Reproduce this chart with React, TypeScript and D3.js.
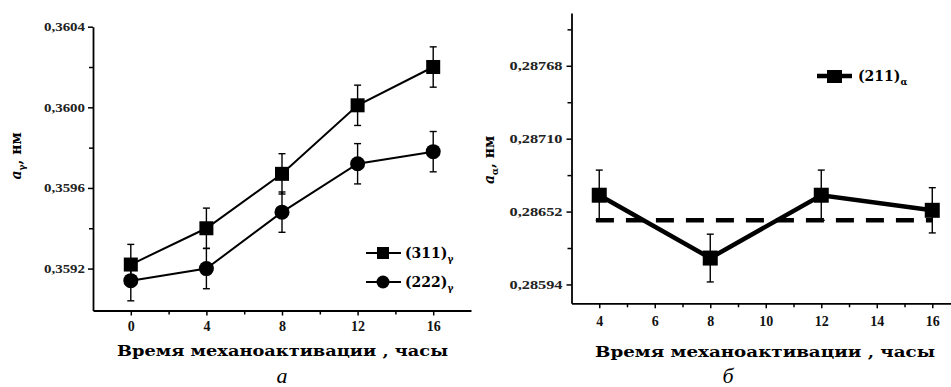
import { useEffect, useRef } from 'react'
import * as d3 from 'd3'

// panel а: lattice parameter of austenite vs activation time
const hoursA = [0, 4, 8, 12, 16]
const s311 = [0.35922, 0.3594, 0.35967, 0.36001, 0.3602]
const s311Err = [0.0001, 0.0001, 0.0001, 0.0001, 0.0001]
const s222 = [0.35914, 0.3592, 0.35948, 0.35972, 0.35978]
const s222Err = [0.0001, 0.0001, 0.0001, 0.0001, 0.0001]
const yTicksA = [0.3592, 0.3596, 0.36, 0.3604]
const yMinorA = [0.3594, 0.3598, 0.3602]
const xTicksA = [0, 4, 8, 12, 16]
const xMinorA = [2, 6, 10, 14]

// panel б: lattice parameter of ferrite
const hoursB = [4, 8, 12, 16]
const s211 = [0.28665, 0.28615, 0.28665, 0.28653]
const s211Err = [0.0002, 0.00019, 0.0002, 0.00018]
const refLevel = 0.28645
const yTicksB = [0.28594, 0.28652, 0.2871, 0.28768]
const yMinorB = [0.28623, 0.28681, 0.28739, 0.28797]
const xTicksB = [4, 6, 8, 10, 12, 14, 16]
const xMinorB = [5, 7, 9, 11, 13, 15]

const SERIF = '"DejaVu Serif", "Liberation Serif", serif'
const TIMES = '"Liberation Serif", serif'

export default function App() {
  const ref = useRef<SVGSVGElement>(null)

  useEffect(() => {
    const svg = d3.select(ref.current)
    svg.selectAll('*').remove()

    const axisStyle = (g: d3.Selection<SVGGElement, unknown, null, undefined>) => {
      g.select('.domain').attr('stroke', '#000').attr('stroke-width', 1.8)
      g.selectAll('.tick line').attr('stroke', '#000').attr('stroke-width', 1.5)
    }

    // ---------- panel а ----------
    const xA = d3.scaleLinear().domain([-2, 18]).range([93, 471])
    const yA = d3.scaleLinear().domain([0.358992, 0.3604]).range([310.5, 26.7])
    const pA = svg.append('g')

    const minorYA = pA.append('g').attr('transform', `translate(${xA(-2)},0)`)
      .call(d3.axisLeft(yA).tickValues(yMinorA).tickSize(4).tickFormat(() => ''))
    minorYA.select('.domain').remove()
    minorYA.selectAll('.tick line').attr('stroke', '#000').attr('stroke-width', 1.5)

    pA.append('g').attr('transform', `translate(${xA(-2)},0)`)
      .call(d3.axisLeft(yA).tickValues(yTicksA).tickSize(5).tickSizeOuter(0)
        .tickFormat(v => (+v).toFixed(4).replace('.', ',')))
      .call(axisStyle)
      .call(g => g.selectAll('.tick text')
        .attr('font-family', TIMES).attr('font-size', 12).attr('font-weight', 700)
        .attr('fill', '#222').attr('x', -8).attr('textLength', 41).attr('lengthAdjust', 'spacingAndGlyphs'))

    const minorXA = pA.append('g').attr('transform', `translate(0,${yA.range()[0]})`)
      .call(d3.axisBottom(xA).tickValues(xMinorA).tickSize(4).tickFormat(() => ''))
    minorXA.select('.domain').remove()
    minorXA.selectAll('.tick line').attr('stroke', '#000').attr('stroke-width', 1.5)

    pA.append('g').attr('transform', `translate(0,${yA.range()[0]})`)
      .call(d3.axisBottom(xA).tickValues(xTicksA).tickSize(5).tickSizeOuter(0))
      .call(axisStyle)
      .call(g => g.selectAll('.tick text')
        .attr('font-family', TIMES).attr('font-size', 14).attr('font-weight', 700)
        .attr('fill', '#111').attr('y', 11))

    const seriesA = [
      { vals: s311, err: s311Err, shape: 'square' },
      { vals: s222, err: s222Err, shape: 'circle' },
    ]
    seriesA.forEach(s => {
      const pts = hoursA.map((h, i) => ({ x: h, y: s.vals[i], e: s.err[i] }))
      pts.forEach(p => {
        pA.append('line').attr('x1', xA(p.x)).attr('x2', xA(p.x))
          .attr('y1', yA(p.y - p.e)).attr('y2', yA(p.y + p.e))
          .attr('stroke', '#000').attr('stroke-width', 1.4)
        ;[p.y - p.e, p.y + p.e].forEach(v => pA.append('line')
          .attr('x1', xA(p.x) - 3.5).attr('x2', xA(p.x) + 3.5)
          .attr('y1', yA(v)).attr('y2', yA(v))
          .attr('stroke', '#000').attr('stroke-width', 1.4))
      })
      pA.append('path').datum(pts)
        .attr('d', d3.line<typeof pts[0]>().x(p => xA(p.x)).y(p => yA(p.y)))
        .attr('fill', 'none').attr('stroke', '#000').attr('stroke-width', 2)
      pts.forEach(p => {
        if (s.shape === 'square') {
          pA.append('rect').attr('x', xA(p.x) - 7).attr('y', yA(p.y) - 7)
            .attr('width', 14).attr('height', 14).attr('fill', '#000')
        } else {
          pA.append('circle').attr('cx', xA(p.x)).attr('cy', yA(p.y)).attr('r', 7.5).attr('fill', '#000')
        }
      })
    })

    // legend а
    const legA = [
      { label: '(311)', y: 253, shape: 'square' },
      { label: '(222)', y: 282, shape: 'circle' },
    ]
    legA.forEach(l => {
      pA.append('line').attr('x1', 366).attr('x2', 401).attr('y1', l.y).attr('y2', l.y)
        .attr('stroke', '#000').attr('stroke-width', 2)
      if (l.shape === 'square') pA.append('rect').attr('x', 377).attr('y', l.y - 6).attr('width', 12).attr('height', 12)
      else pA.append('circle').attr('cx', 383).attr('cy', l.y).attr('r', 6.5)
      const t = pA.append('text').attr('x', 405).attr('y', l.y + 5)
        .attr('font-family', SERIF).attr('font-size', 14).attr('font-weight', 700)
      t.append('tspan').text(l.label)
      t.append('tspan').attr('dy', 4).attr('font-size', 9).text('γ')
    })

    // titles а
    const yTitleA = pA.append('text').attr('transform', 'translate(21,156) rotate(-90)')
      .attr('text-anchor', 'middle').attr('font-family', SERIF).attr('font-size', 14).attr('font-weight', 700)
    yTitleA.append('tspan').attr('font-style', 'italic').text('a')
    yTitleA.append('tspan').attr('dy', 4).attr('font-size', 9).text('γ')
    yTitleA.append('tspan').attr('dy', -4).text(', нм')

    pA.append('text').attr('x', 117).attr('y', 356)
      .attr('font-family', SERIF).attr('font-size', 15).attr('font-weight', 700)
      .attr('textLength', 331).attr('lengthAdjust', 'spacingAndGlyphs')
      .text('Время механоактивации , часы')
    pA.append('text').attr('x', 282).attr('y', 383).attr('text-anchor', 'middle')
      .attr('font-family', TIMES).attr('font-size', 22).attr('font-style', 'italic').text('а')

    // ---------- panel б ----------
    const xB = d3.scaleLinear().domain([3, 16.7]).range([571.5, 951.7])
    const yB = d3.scaleLinear().domain([0.28579, 0.2881]).range([303.3, 13])
    const pB = svg.append('g')

    const minorYB = pB.append('g').attr('transform', `translate(${xB(3)},0)`)
      .call(d3.axisLeft(yB).tickValues(yMinorB).tickSize(4).tickFormat(() => ''))
    minorYB.select('.domain').remove()
    minorYB.selectAll('.tick line').attr('stroke', '#000').attr('stroke-width', 1.5)

    pB.append('g').attr('transform', `translate(${xB(3)},0)`)
      .call(d3.axisLeft(yB).tickValues(yTicksB).tickSize(5).tickSizeOuter(0)
        .tickFormat(v => (+v).toFixed(5).replace('.', ',')))
      .call(axisStyle)
      .call(g => g.selectAll('.tick text')
        .attr('font-family', TIMES).attr('font-size', 13).attr('font-weight', 700)
        .attr('fill', '#222').attr('x', -9).attr('textLength', 53).attr('lengthAdjust', 'spacingAndGlyphs'))

    const minorXB = pB.append('g').attr('transform', `translate(0,${yB.range()[0]})`)
      .call(d3.axisBottom(xB).tickValues(xMinorB).tickSize(4).tickFormat(() => ''))
    minorXB.select('.domain').remove()
    minorXB.selectAll('.tick line').attr('stroke', '#000').attr('stroke-width', 1.5)

    pB.append('g').attr('transform', `translate(0,${yB.range()[0]})`)
      .call(d3.axisBottom(xB).tickValues(xTicksB).tickSize(5).tickSizeOuter(0))
      .call(axisStyle)
      .call(g => g.selectAll('.tick text')
        .attr('font-family', TIMES).attr('font-size', 14).attr('font-weight', 700)
        .attr('fill', '#111').attr('y', 13))

    pB.append('line').attr('x1', xB(3.88)).attr('x2', xB(16))
      .attr('y1', yB(refLevel)).attr('y2', yB(refLevel))
      .attr('stroke', '#000').attr('stroke-width', 4.5).attr('stroke-dasharray', '18 12')

    const ptsB = hoursB.map((h, i) => ({ x: h, y: s211[i], e: s211Err[i] }))
    ptsB.forEach(p => {
      pB.append('line').attr('x1', xB(p.x)).attr('x2', xB(p.x))
        .attr('y1', yB(p.y - p.e)).attr('y2', yB(p.y + p.e))
        .attr('stroke', '#000').attr('stroke-width', 1.4)
      ;[p.y - p.e, p.y + p.e].forEach(v => pB.append('line')
        .attr('x1', xB(p.x) - 3.5).attr('x2', xB(p.x) + 3.5)
        .attr('y1', yB(v)).attr('y2', yB(v))
        .attr('stroke', '#000').attr('stroke-width', 1.4))
    })
    pB.append('path').datum(ptsB)
      .attr('d', d3.line<typeof ptsB[0]>().x(p => xB(p.x)).y(p => yB(p.y)))
      .attr('fill', 'none').attr('stroke', '#000').attr('stroke-width', 4.5)
    ptsB.forEach(p => {
      pB.append('rect').attr('x', xB(p.x) - 7.5).attr('y', yB(p.y) - 7.5)
        .attr('width', 15).attr('height', 15).attr('fill', '#000')
    })

    // legend б
    pB.append('line').attr('x1', 817).attr('x2', 852).attr('y1', 76).attr('y2', 76)
      .attr('stroke', '#000').attr('stroke-width', 4.5)
    pB.append('rect').attr('x', 827).attr('y', 70).attr('width', 15).attr('height', 13)
    const legB = pB.append('text').attr('x', 858).attr('y', 81)
      .attr('font-family', SERIF).attr('font-size', 14).attr('font-weight', 700)
    legB.append('tspan').text('(211)')
    legB.append('tspan').attr('dy', 4).attr('font-size', 9).text('α')

    const yTitleB = pB.append('text').attr('transform', 'translate(494,160) rotate(-90)')
      .attr('text-anchor', 'middle').attr('font-family', SERIF).attr('font-size', 14).attr('font-weight', 700)
    yTitleB.append('tspan').attr('font-style', 'italic').text('a')
    yTitleB.append('tspan').attr('dy', 4).attr('font-size', 9).text('α')
    yTitleB.append('tspan').attr('dy', -4).text(', нм')

    pB.append('text').attr('x', 595).attr('y', 357)
      .attr('font-family', SERIF).attr('font-size', 15).attr('font-weight', 700)
      .attr('textLength', 340).attr('lengthAdjust', 'spacingAndGlyphs')
      .text('Время механоактивации , часы')
    pB.append('text').attr('x', 728).attr('y', 383).attr('text-anchor', 'middle')
      .attr('font-family', TIMES).attr('font-size', 22).attr('font-style', 'italic').text('б')
  }, [])

  return (
    <div style={{ position: 'absolute', left: 0, top: 0, background: '#fff' }}>
      <svg ref={ref} width={951} height={387} style={{ display: 'block' }} />
    </div>
  )
}
